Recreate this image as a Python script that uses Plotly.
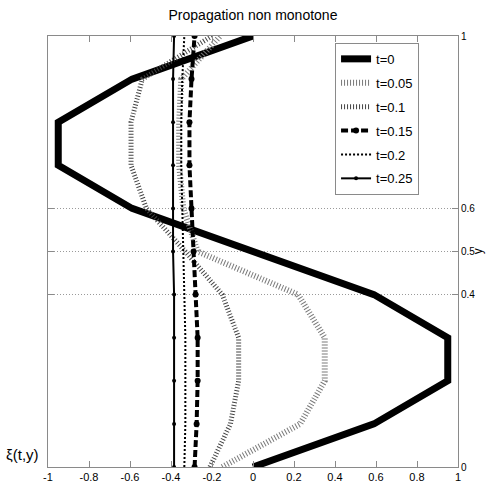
import plotly.graph_objects as go

# Profiles xi(t, y) sampled on y = 0, 0.1, ..., 1
y_vals = [0.0, 0.1, 0.2, 0.3, 0.4, 0.5, 0.6, 0.7, 0.8, 0.9, 1.0]

xi_t0 = [0.0, 0.59, 0.95, 0.95, 0.59, 0.0, -0.59, -0.95, -0.95, -0.59, 0.0]
xi_t005 = [-0.15, 0.23, 0.35, 0.35, 0.22, -0.27, -0.34, -0.36, -0.36, -0.35, -0.16]
xi_t01 = [-0.21, -0.11, -0.07, -0.07, -0.15, -0.33, -0.52, -0.595, -0.595, -0.54, -0.2]
xi_t015 = [-0.285, -0.275, -0.27, -0.27, -0.28, -0.29, -0.30, -0.31, -0.31, -0.30, -0.285]
xi_t02 = [-0.335, -0.33, -0.33, -0.33, -0.335, -0.34, -0.345, -0.35, -0.35, -0.345, -0.335]
xi_t025 = [-0.385, -0.385, -0.385, -0.385, -0.385, -0.39, -0.39, -0.39, -0.39, -0.39, -0.385]

series_names = ["t=0", "t=0.05", "t=0.1", "t=0.15", "t=0.2", "t=0.25"]

x_tick_vals = [-1, -0.8, -0.6, -0.4, -0.2, 0, 0.2, 0.4, 0.6, 0.8, 1]
x_tick_text = ["-1", "-0.8", "-0.6", "-0.4", "-0.2", "0", "0.2", "0.4", "0.6", "0.8", "1"]
y_tick_vals = [0, 0.4, 0.5, 0.6, 1]
y_tick_text = ["0", "0.4", "0.5", "0.6", "1"]

FONT = "Liberation Sans Narrow, Arial Narrow, Liberation Sans, Arial, sans-serif"
AXIS_GRAY = "#8a8a8a"

styles = [
    dict(mode="lines", line=dict(color="black", width=7)),
    dict(mode="lines", line=dict(color="#7a7a7a", width=6, dash="1px,2px")),
    dict(mode="lines", line=dict(color="#444444", width=5, dash="1px,2px")),
    dict(mode="lines+markers", line=dict(color="black", width=4, dash="7px,3px"),
         marker=dict(color="black", size=6)),
    dict(mode="lines", line=dict(color="black", width=2, dash="2px,2px")),
    dict(mode="lines+markers", line=dict(color="black", width=2),
         marker=dict(color="black", size=4)),
]

series = [xi_t0, xi_t005, xi_t01, xi_t015, xi_t02, xi_t025]

fig = go.Figure()
for i, (name, xs, st) in enumerate(zip(series_names, series, styles)):
    fig.add_trace(go.Scatter(x=xs, y=y_vals, name=name, legendgroup=f"g{i}", **st))

fig.update_layout(
    width=486,
    height=491,
    margin=dict(l=48, r=28, t=36, b=24),
    paper_bgcolor="white",
    plot_bgcolor="white",
    font=dict(family=FONT, size=11, color="black"),
    title=dict(text="Propagation non monotone", x=0.5, xref="paper", xanchor="center",
               y=1 - 15 / 491, yanchor="middle", font=dict(family=FONT, size=14)),
    showlegend=True,
    legend=dict(
        x=0.905, xanchor="right", y=0.984, yanchor="top",
        bgcolor="white", bordercolor=AXIS_GRAY, borderwidth=1,
        font=dict(family=FONT, size=13), tracegroupgap=4, itemwidth=30,
    ),
    xaxis=dict(
        range=[-1, 1], tickvals=x_tick_vals, ticktext=x_tick_text,
        ticks="inside", ticklen=6, tickcolor=AXIS_GRAY,
        showline=True, linecolor=AXIS_GRAY, linewidth=1, mirror="ticks",
        showgrid=False, zeroline=False, automargin=False,
    ),
    yaxis=dict(
        range=[0, 1], side="right", tickvals=y_tick_vals, ticktext=y_tick_text,
        tickfont=dict(family=FONT, size=10),
        ticks="inside", ticklen=6, tickcolor=AXIS_GRAY,
        showline=True, linecolor=AXIS_GRAY, linewidth=1, mirror="ticks",
        showgrid=True, gridcolor="#9a9a9a", griddash="1px,2px", gridwidth=1,
        zeroline=False, automargin=False,
    ),
    annotations=[
        dict(text="ξ(t,y)", xref="paper", yref="paper", x=-0.063, y=0.028,
             xanchor="center", yanchor="middle", showarrow=False,
             font=dict(family=FONT, size=15)),
        dict(text="y", xref="paper", yref="paper", x=1.048, y=0.5,
             xanchor="center", yanchor="middle", showarrow=False, textangle=-90,
             borderpad=0, font=dict(family=FONT, size=12)),
    ],
)

fig.write_html("out.html")
